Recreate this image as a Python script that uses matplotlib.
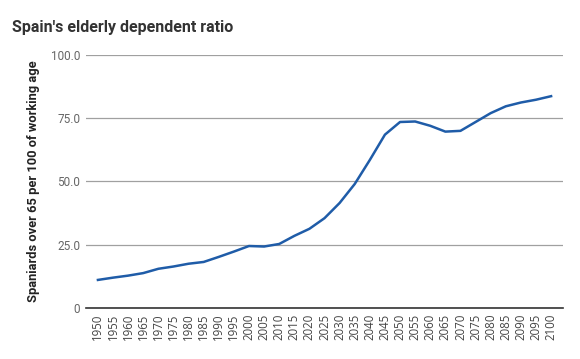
import matplotlib
matplotlib.use('Agg')
import matplotlib.pyplot as plt

# Data
years = list(range(1950, 2101, 5))
ratio = [11.1, 12.0, 12.8, 13.8, 15.5, 16.4, 17.5, 18.2, 20.2, 22.3,
         24.5, 24.3, 25.3, 28.5, 31.3, 35.5, 41.5, 49.0, 58.5, 68.5,
         73.5, 73.7, 72.0, 69.7, 70.0, 73.5, 77.0, 79.7, 81.2, 82.3, 83.7]
y_ticks = [0, 25, 50, 75, 100]
y_tick_labels = ["0", "25.0", "50.0", "75.0", "100.0"]

plt.rcParams['font.family'] = ['Roboto', 'DejaVu Sans']

fig = plt.figure(figsize=(5.8, 3.59), dpi=100)
ax = fig.add_axes([0.148, 0.142, 0.823, 0.705])

ax.plot(years, ratio, color='#1f5ca8', linewidth=1.8, solid_joinstyle='round')

ax.set_xlim(1946, 2104)
ax.set_ylim(0, 100)
ax.set_yticks(y_ticks)
ax.set_yticklabels(y_tick_labels, color='#666666', fontsize=8.5)
ax.set_xticks(years)
ax.set_xticklabels([str(y) for y in years], rotation=90, color='#444444',
                   fontsize=8.3, family=['Open Sans', 'DejaVu Sans'])
ax.tick_params(length=0, pad=4)

ax.grid(axis='y', color='#a0a0a0', linewidth=0.9)
ax.set_axisbelow(True)
for s in ['top', 'right', 'left']:
    ax.spines[s].set_visible(False)
ax.spines['bottom'].set_color('#333333')
ax.spines['bottom'].set_linewidth(1.2)

ax.set_ylabel("Spaniards over 65 per 100 of working age", fontsize=9.3,
              fontweight='bold', color='#222222', labelpad=8)

fig.text(0.021, 0.91, "Spain's elderly dependent ratio", fontsize=11.5,
         fontweight='bold', color='#333333', ha='left', va='baseline')

fig.savefig('out.png', dpi=100)
